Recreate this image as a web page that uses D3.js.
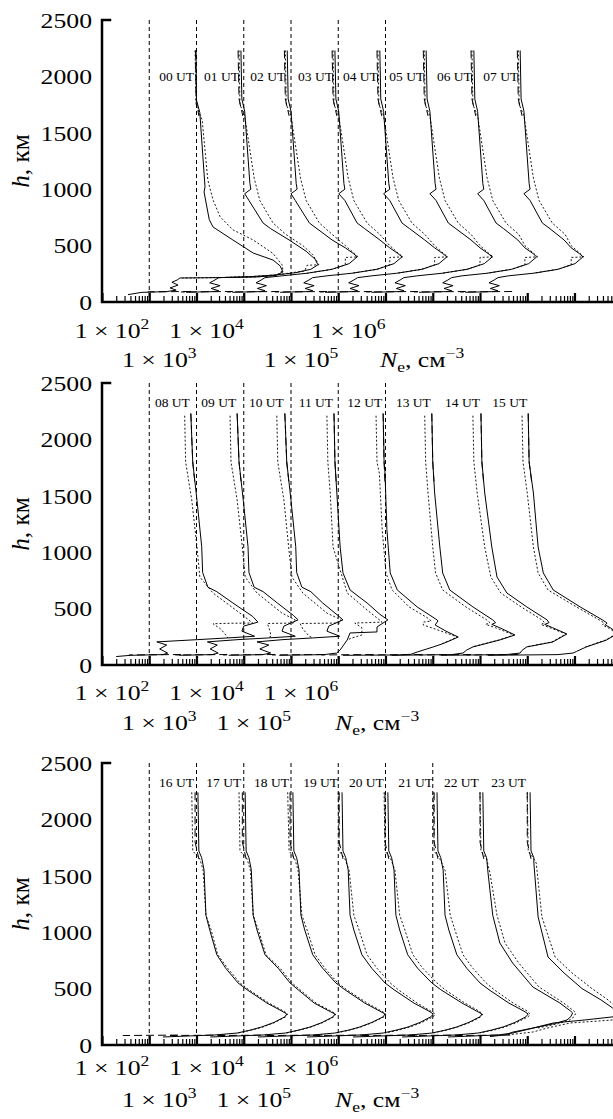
<!DOCTYPE html>
<html><head><meta charset="utf-8">
<script src="https://cdn.jsdelivr.net/npm/d3@7"></script>
<style>
body{margin:0;background:#fff}
svg{display:block}
text{font-family:"Liberation Serif","Times New Roman",serif;fill:#000}
</style>
</head><body>
<svg id="c" width="613" height="1119"></svg>
<script>
// ---------- DATA: [altitude km, log10 Ne (cm^-3)] ----------
const utP1 = ["00 UT","01 UT","02 UT","03 UT","04 UT","05 UT","06 UT","07 UT"];
const utP2 = ["08 UT","09 UT","10 UT","11 UT","12 UT","13 UT","14 UT","15 UT"];
const utP3 = ["16 UT","17 UT","18 UT","19 UT","20 UT","21 UT","22 UT","23 UT"];

const solidP1 = [
 [[2230,3.99],[1790,4.00],[1680,4.07],[1020,4.18],[975,4.16],[730,4.27],[665,4.35],[550,4.77],[434,5.20],[372,5.62],[320,5.77],[266,5.83],[235,5.68],[222,5.26],[216,4.41],[213,3.65],[195,3.59],[175,3.48],[150,3.61],[125,3.44],[105,3.57],[92,3.36],[85,2.83],[65,2.55]],
 [[2230,3.94],[1800,3.96],[1690,4.02],[1050,4.13],[1000,4.15],[960,4.02],[900,4.11],[700,4.41],[650,4.57],[550,4.96],[450,5.32],[380,5.51],[330,5.57],[290,5.42],[260,5.10],[240,4.68],[225,4.15],[216,3.47],[195,3.39],[170,3.28],[145,3.50],[120,3.31],[100,3.47],[92,3.35],[86,2.78]],
 [[2230,3.92],[1800,3.94],[1690,4.00],[1050,4.11],[1000,4.13],[960,4.00],[900,4.09],[700,4.39],[650,4.55],[550,4.87],[480,5.15],[430,5.32],[400,5.40],[340,5.23],[290,4.87],[255,4.34],[232,3.81],[216,3.45],[195,3.37],[170,3.26],[145,3.48],[120,3.29],[100,3.45],[92,3.33],[86,2.76]],
 [[2230,3.93],[1800,3.95],[1690,4.01],[1050,4.12],[1000,4.14],[960,4.01],[900,4.14],[700,4.40],[650,4.56],[550,4.88],[480,5.09],[430,5.26],[400,5.35],[340,5.18],[290,4.82],[255,4.29],[232,3.76],[216,3.46],[195,3.38],[170,3.27],[145,3.49],[120,3.30],[100,3.46],[92,3.34],[86,2.77]],
 [[2230,3.88],[1800,3.90],[1690,3.96],[1050,4.07],[1000,4.09],[960,3.96],[900,4.09],[700,4.35],[650,4.51],[550,4.83],[480,5.04],[430,5.21],[400,5.30],[340,5.13],[290,4.77],[255,4.24],[232,3.71],[216,3.41],[195,3.33],[170,3.22],[145,3.44],[120,3.25],[100,3.41],[92,3.29],[86,2.72]],
 [[2230,3.86],[1800,3.88],[1690,3.94],[1050,4.05],[1000,4.07],[960,3.94],[900,4.07],[700,4.33],[650,4.49],[550,4.81],[480,5.00],[430,5.17],[400,5.26],[340,5.09],[290,4.73],[255,4.20],[232,3.67],[216,3.39],[195,3.31],[170,3.20],[145,3.42],[120,3.23],[100,3.39],[92,3.27],[86,2.70]],
 [[2230,3.87],[1800,3.89],[1690,3.95],[1050,4.06],[1000,4.08],[960,3.95],[900,4.08],[700,4.34],[650,4.50],[550,4.80],[480,4.95],[430,5.12],[400,5.20],[340,5.03],[290,4.67],[255,4.15],[232,3.62],[216,3.40],[195,3.32],[170,3.21],[145,3.43],[120,3.24],[100,3.40],[92,3.28],[86,2.71]],
 [[2230,3.85],[1800,3.87],[1690,3.93],[1050,4.04],[1000,4.06],[960,3.93],[900,4.06],[700,4.32],[650,4.48],[550,4.78],[480,4.93],[430,5.10],[400,5.18],[340,5.01],[290,4.65],[255,4.13],[232,3.60],[216,3.38],[195,3.30],[170,3.19],[145,3.41],[120,3.22],[100,3.38],[92,3.26],[86,2.69]]
];
const dottedP1 = [
 [[2230,3.97],[1750,3.99],[1613,4.12],[1080,4.24],[905,4.35],[755,4.50],[640,4.77],[550,5.20],[430,5.62],[330,5.81],[280,5.83],[235,5.68],[222,5.26],[216,4.41],[212,3.70]],
 [[2230,3.90],[1750,3.92],[1650,4.02],[1100,4.22],[900,4.34],[700,4.62],[600,4.89],[500,5.25],[420,5.46],[330,5.59],[325,5.34],[275,5.29],[240,4.68],[225,4.15],[216,3.47]],
 [[2230,3.88],[1750,3.90],[1650,4.00],[1100,4.20],[900,4.32],[700,4.60],[600,4.87],[500,5.15],[430,5.34],[400,5.42],[395,5.15],[330,5.15],[290,4.87],[255,4.34]],
 [[2230,3.89],[1750,3.91],[1650,4.01],[1100,4.21],[900,4.33],[700,4.61],[600,4.88],[500,5.09],[430,5.28],[400,5.37],[395,5.09],[330,5.09],[290,4.82],[255,4.29]],
 [[2230,3.84],[1750,3.86],[1650,3.96],[1100,4.16],[900,4.28],[700,4.56],[600,4.83],[500,5.04],[430,5.23],[400,5.32],[395,5.04],[330,5.04],[290,4.77],[255,4.24]],
 [[2230,3.82],[1750,3.84],[1650,3.94],[1100,4.14],[900,4.26],[700,4.54],[600,4.81],[500,5.00],[430,5.19],[400,5.28],[395,5.00],[330,5.00],[290,4.73],[255,4.20]],
 [[2230,3.83],[1750,3.85],[1650,3.95],[1100,4.15],[900,4.27],[700,4.55],[600,4.82],[500,4.95],[430,5.14],[400,5.22],[395,4.95],[330,4.95],[290,4.67],[255,4.15]],
 [[2230,3.81],[1750,3.83],[1650,3.93],[1100,4.13],[900,4.25],[700,4.53],[600,4.80],[500,4.93],[430,5.12],[400,5.20],[395,4.93],[330,4.93],[290,4.65],[255,4.13]]
];
const dashedP1 = [
 [[2230,3.98],[1800,3.99],[1650,4.05],null,[93,3.88],[90,2.97]],
 [[2230,3.88],[1800,3.90],[1650,3.98],null,[93,3.77],[89,2.67]],
 [[2230,3.86],[1800,3.88],[1650,3.96],null,[93,3.75],[89,2.65]],
 [[2230,3.87],[1800,3.89],[1650,3.97],null,[93,3.76],[89,2.66]],
 [[2230,3.82],[1800,3.84],[1650,3.92],null,[93,3.71],[89,2.61]],
 [[2230,3.80],[1800,3.82],[1650,3.90],null,[93,3.69],[89,2.59]],
 [[2230,3.81],[1800,3.83],[1650,3.91],null,[93,3.70],[89,2.60]],
 [[2230,3.79],[1800,3.81],[1650,3.89],null,[93,3.68],[89,2.58]]
];

const solidP2 = [
 [[2230,3.88],[1800,3.92],[1460,4.01],[1050,4.11],[820,4.13],[690,4.24],[650,4.43],[550,4.77],[430,5.19],[380,5.30],[345,5.00],[300,4.96],[255,5.23],[240,4.66],[225,4.03],[205,3.16],[177,3.37],[142,3.22],[106,3.39],[92,3.29],[86,2.61],[75,2.30]],
 [[2230,3.86],[1800,3.90],[1460,3.99],[1050,4.09],[820,4.11],[690,4.22],[650,4.41],[550,4.71],[440,5.05],[400,5.15],[345,4.85],[300,4.81],[255,5.09],[240,4.52],[225,3.88],[205,3.23],[177,3.44],[142,3.29],[106,3.46],[92,3.33],[86,2.63]],
 [[2230,3.87],[1800,3.91],[1460,4.00],[1050,4.10],[820,4.12],[690,4.23],[650,4.42],[550,4.67],[440,4.99],[400,5.10],[345,4.80],[300,4.76],[255,5.03],[240,4.46],[225,3.83],[205,3.28],[177,3.53],[142,3.34],[106,3.57],[92,3.40],[86,2.68]],
 [[2230,3.91],[1800,3.93],[1525,3.97],[1046,4.04],[816,4.10],[665,4.25],[550,4.61],[450,4.88],[400,5.05],[337,4.82],[293,4.82],[284,4.25],[222,4.19],[133,4.04],[106,3.97],[92,3.70],[86,2.75]],
 [[2230,3.95],[1800,3.97],[1700,3.99],[1200,4.03],[816,4.10],[665,4.25],[515,4.67],[400,5.09],[390,5.11],[355,5.05],[300,5.28],[248,5.54],[220,5.39],[190,5.22],[160,5.01],[115,4.67],[95,4.54],[89,4.27],[86,3.10]],
 [[2230,3.98],[1800,4.00],[1525,4.04],[1046,4.15],[816,4.21],[665,4.36],[515,4.85],[400,5.27],[375,5.33],[360,5.25],[330,5.42],[266,5.74],[222,5.42],[160,4.85],[133,4.72],[106,4.64],[92,4.40],[86,3.13]],
 [[2230,4.02],[1800,4.04],[1525,4.10],[1046,4.25],[780,4.36],[638,4.57],[515,4.99],[400,5.42],[375,5.46],[360,5.37],[330,5.54],[275,5.84],[204,5.54],[160,4.99],[130,4.89],[106,4.85],[92,4.55],[86,3.17]],
 [[2230,4.02],[1800,4.04],[1525,4.13],[1046,4.23],[816,4.34],[665,4.55],[515,5.12],[400,5.59],[372,5.69],[355,5.65],[330,5.76],[280,5.92],[220,5.67],[160,5.25],[120,5.04],[106,4.97],[92,4.65],[86,3.17]]
];
const dottedP2 = [
 [[2210,3.75],[1800,3.77],[1463,3.90],[1046,4.01],[780,4.07],[638,4.35],[460,4.92],[372,5.19],[370,4.73],[366,4.35],[320,4.51],[257,4.64],[240,4.66]],
 [[2210,3.71],[1800,3.73],[1463,3.86],[1046,3.97],[780,4.03],[638,4.28],[460,4.81],[400,5.09],[372,5.05],[368,4.50],[320,4.54],[257,4.58],[240,4.52]],
 [[2210,3.70],[1800,3.72],[1463,3.85],[1046,3.95],[780,4.02],[638,4.25],[460,4.76],[400,5.06],[372,5.03],[368,4.19],[320,4.25],[257,4.38],[240,4.46]],
 [[2210,3.76],[1800,3.78],[1525,3.83],[1046,3.89],[638,4.19],[488,4.61],[380,4.93],[372,4.35],[330,4.50],[266,4.50],[240,4.29],[222,4.19]],
 [[2210,3.80],[1800,3.82],[1700,3.87],[1200,3.93],[816,4.01],[665,4.14],[515,4.50],[420,4.88],[390,4.97],[380,4.80],[355,4.80],[300,5.18],[248,5.52],[220,5.37],[190,5.20]],
 [[2210,3.83],[1800,3.85],[1525,3.90],[1046,4.00],[816,4.06],[665,4.21],[515,4.70],[400,5.14],[375,5.21],[360,5.12],[330,5.33],[266,5.72],[222,5.40],[160,4.83]],
 [[2210,3.85],[1800,3.87],[1525,3.94],[1046,4.10],[780,4.23],[638,4.44],[515,4.87],[400,5.31],[375,5.37],[360,5.29],[330,5.48],[275,5.82],[204,5.52],[160,4.97]],
 [[2210,3.89],[1800,3.91],[1525,4.00],[1046,4.13],[816,4.23],[665,4.44],[515,5.04],[400,5.52],[372,5.63],[355,5.59],[330,5.71],[280,5.90],[220,5.65],[160,5.23]]
];
const dashedP2 = [
 [[2230,3.88],[1800,3.92],[1600,3.97],null,[93,3.67],[89,2.57]],
 [[2230,3.86],[1800,3.90],[1600,3.95],null,[93,3.65],[89,2.55]],
 [[2230,3.87],[1800,3.91],[1600,3.96],null,[93,3.66],[89,2.56]],
 [[2230,3.91],[1800,3.93],[1600,3.96],null,[93,3.70],[89,2.60]],
 [[2230,3.95],[1800,3.97],[1600,3.99],null,[93,3.74],[89,2.64]],
 [[2230,3.98],[1800,4.00],[1600,4.03],null,[93,3.77],[89,2.67]],
 [[2230,4.02],[1800,4.04],[1600,4.08],null,[93,3.81],[89,2.71]],
 [[2230,4.02],[1800,4.04],[1600,4.10],null,[93,3.81],[89,2.71]]
];

const solidP3 = [
 [[2240,4.03],[1720,4.05],[1660,4.11],[1550,4.16],[1150,4.20],[1020,4.28],[800,4.43],[680,4.62],[550,4.88],[490,5.07],[372,5.49],[300,5.81],[275,5.91],[250,5.87],[200,5.64],[160,5.38],[133,5.15],[106,4.86],[89,4.39],[71,3.29]],
 [[2240,4.03],[1720,4.05],[1660,4.11],[1550,4.16],[1150,4.20],[1020,4.28],[800,4.45],[680,4.73],[550,4.98],[490,5.15],[372,5.49],[300,5.81],[275,5.93],[250,5.89],[200,5.66],[160,5.41],[133,5.17],[106,4.88],[89,4.41],[71,3.29]],
 [[2240,4.04],[1720,4.06],[1660,4.12],[1550,4.17],[1150,4.21],[1020,4.29],[800,4.46],[680,4.67],[550,4.95],[490,5.14],[372,5.56],[300,5.88],[275,5.99],[250,5.95],[200,5.71],[160,5.46],[133,5.23],[106,4.93],[89,4.46],[71,3.30]],
 [[2240,4.08],[1720,4.10],[1660,4.16],[1550,4.21],[1150,4.25],[1020,4.33],[800,4.50],[680,4.71],[550,4.99],[490,5.18],[372,5.60],[300,5.92],[275,6.01],[250,5.96],[200,5.73],[160,5.48],[133,5.24],[106,4.95],[89,4.48],[71,3.34]],
 [[2240,4.05],[1720,4.07],[1660,4.13],[1550,4.18],[1150,4.22],[1020,4.30],[800,4.47],[680,4.68],[550,4.98],[490,5.17],[372,5.62],[300,5.93],[275,6.04],[250,6.00],[200,5.76],[160,5.51],[133,5.28],[106,4.98],[89,4.52],[71,3.31]],
 [[2240,4.09],[1720,4.11],[1660,4.17],[1550,4.22],[1150,4.26],[1020,4.34],[800,4.51],[680,4.72],[550,5.00],[490,5.19],[372,5.61],[300,5.93],[275,6.02],[250,5.97],[200,5.74],[160,5.49],[133,5.25],[106,4.96],[89,4.49],[71,3.35]],
 [[2240,4.06],[1720,4.08],[1660,4.14],[1525,4.17],[1150,4.27],[904,4.42],[727,4.69],[514,5.12],[372,5.69],[300,5.92],[284,5.96],[250,5.92],[222,5.84],[190,5.58],[150,5.12],[106,4.69],[89,4.38],[71,3.32]],
 [[2240,4.06],[1720,4.08],[1660,4.14],[1613,4.14],[1135,4.23],[780,4.44],[638,4.78],[500,5.16],[400,5.56],[330,5.80],[280,5.92],[250,5.82],[222,5.22],[195,4.55],[150,4.12],[115,3.70],[89,3.53],[75,3.21]]
];
const dottedP3 = [
 [[2240,3.90],[1720,3.92],[1650,4.07],[1550,4.14],[1150,4.20],[1020,4.31],[800,4.45],[680,4.66],[550,4.92],[490,5.11],[372,5.53],[300,5.85],[275,5.93],[250,5.89],[200,5.66],[160,5.41],[133,5.17],[106,4.88]],
 [[2240,3.90],[1720,3.92],[1650,4.07],[1550,4.14],[1150,4.20],[1020,4.31],[800,4.47],[680,4.77],[550,5.02],[490,5.19],[372,5.53],[300,5.85],[275,5.95],[250,5.91],[200,5.68],[160,5.43],[133,5.19],[106,4.90]],
 [[2240,3.93],[1720,3.96],[1650,4.08],[1550,4.15],[1150,4.23],[1020,4.34],[800,4.51],[680,4.72],[550,4.99],[490,5.18],[372,5.61],[300,5.92],[275,6.01],[250,5.97],[200,5.73],[160,5.48],[133,5.25],[106,4.95]],
 [[2240,4.00],[1720,4.02],[1650,4.14],[1550,4.23],[1150,4.33],[1020,4.44],[800,4.61],[680,4.82],[550,5.10],[490,5.27],[372,5.67],[300,5.96],[275,6.05],[250,6.01],[200,5.77],[160,5.52],[133,5.29],[106,4.99]],
 [[2240,3.97],[1720,3.99],[1650,4.11],[1550,4.20],[1150,4.30],[1020,4.41],[800,4.58],[680,4.79],[550,5.09],[490,5.26],[372,5.68],[300,5.98],[275,6.06],[250,6.02],[200,5.79],[160,5.53],[133,5.30],[106,5.00]],
 [[2240,4.01],[1720,4.03],[1650,4.15],[1550,4.26],[1150,4.37],[1020,4.47],[800,4.64],[680,4.85],[550,5.13],[490,5.30],[372,5.70],[300,6.00],[275,6.06],[250,6.02],[200,5.78],[160,5.53],[133,5.30],[106,5.00]],
 [[2240,4.00],[1720,4.02],[1650,4.14],[1525,4.21],[1150,4.36],[904,4.53],[727,4.82],[514,5.25],[372,5.77],[300,5.99],[284,6.03],[250,5.99],[222,5.90],[190,5.67],[150,5.22]],
 [[2240,4.00],[1720,4.02],[1650,4.14],[1613,4.19],[1135,4.31],[780,4.59],[638,4.95],[500,5.37],[400,5.71],[330,5.90],[280,5.99],[250,5.88],[222,5.82],[195,4.91],[150,4.42],[115,4.12],[89,3.57]]
];
const dashedP3 = [
 [[2240,3.97],[1800,3.97],[1650,4.05],null,[88,3.61],[84,2.44]],
 [[2240,3.97],[1800,3.97],[1650,4.05],null,[88,3.61],[84,2.44]],
 [[2240,3.98],[1800,3.98],[1650,4.06],null,[88,3.62],[84,2.45]],
 [[2240,4.02],[1800,4.02],[1650,4.10],null,[88,3.66],[84,2.49]],
 [[2240,3.99],[1800,3.99],[1650,4.07],null,[88,3.63],[84,2.46]],
 [[2240,4.03],[1800,4.03],[1650,4.11],null,[88,3.67],[84,2.50]],
 [[2240,4.00],[1800,4.00],[1650,4.08],null,[88,3.64],[84,2.47]],
 [[2240,4.00],[1800,4.00],[1650,4.08],null,[88,3.64],[84,2.47]]
];

const yTicks = [0, 500, 1000, 1500, 2000, 2500];
const tickExps = [2, 3, 4, 5, 6];
const tickValsP1 = [1e2, 1e3, 1e4, 1e6, 1e7];
const tickValsP23 = [1e2, 1e3, 1e4, 1e5, 1e6];
const vlinesP12 = [1e3, 1e4, 1e5, 1e6, 1e7, 1e8];
const vlinesP3 = [1e3, 1e4, 1e5, 1e6, 1e7, 1e8, 1e9];

// ---------- LAYOUT ----------
const W = 613;
const SX = 1.17; // horizontal stretch of the lettering
const svg = d3.select("#c");
const x = d3.scaleLog().domain([1e2, 1e13]).range([102, 102 + 11 * 47.25]);

const panels = [
  {top: 20,  bottom: 302,  ut: utP1, solid: solidP1, dotted: dottedP1, dashed: dashedP1, vlines: vlinesP12, ticks: tickValsP1,  labelH: 1955, labelDx: -2, row1: 338,  row2: 367,  neX: 380},
  {top: 383, bottom: 665,  ut: utP2, solid: solidP2, dotted: dottedP2, dashed: dashedP2, vlines: vlinesP12, ticks: tickValsP23, labelH: 2290, labelDx: -1, row1: 700,  row2: 730,  neX: 335},
  {top: 763, bottom: 1045, ut: utP3, solid: solidP3, dotted: dottedP3, dashed: dashedP3, vlines: vlinesP3,  ticks: tickValsP23, labelH: 2290, labelDx: -4, row1: 1075, row2: 1107, neX: 335}
];

function stext(parent, px, py, anchor, size, sx) {
  return parent.append("g")
    .attr("transform", `translate(${px},${py}) scale(${sx},1)`)
    .append("text").attr("text-anchor", anchor).attr("font-size", size);
}

const minorVals = [], majorVals = [];
for (let k = 2; k <= 12; k++) for (let m = 1; m <= 9; m++) {
  const v = m * Math.pow(10, k);
  if (x(v) <= W + 1) (m === 1 ? majorVals : minorVals).push(v);
}

panels.forEach((p) => {
  const y = d3.scaleLinear().domain([0, 2500]).range([p.bottom, p.top]);
  const g = svg.append("g");

  // vertical dashed reference lines
  g.selectAll("line.vl").data(p.vlines).join("line").attr("class", "vl")
    .attr("x1", d => x(d)).attr("x2", d => x(d))
    .attr("y1", y(2500)).attr("y2", y(0))
    .attr("stroke", "#000").attr("stroke-width", 1).attr("stroke-dasharray", "4,3");

  const lineFor = i => d3.line().defined(d => d !== null)
    .x(d => x(Math.pow(10, d[1] + i))).y(d => y(d[0]));

  p.dashed.forEach((arr, i) => g.append("path").attr("d", lineFor(i)(arr))
    .attr("fill", "none").attr("stroke", "#000").attr("stroke-width", 1).attr("stroke-dasharray", "8,4"));
  p.dotted.forEach((arr, i) => g.append("path").attr("d", lineFor(i)(arr))
    .attr("fill", "none").attr("stroke", "#000").attr("stroke-width", 0.9).attr("stroke-dasharray", "2,2"));
  p.solid.forEach((arr, i) => g.append("path").attr("d", lineFor(i)(arr))
    .attr("fill", "none").attr("stroke", "#000").attr("stroke-width", 1));

  // UT labels
  p.ut.forEach((lab, i) => {
    const top = p.solid[i][0];
    stext(g, x(Math.pow(10, top[1] + i)) + p.labelDx, y(p.labelH), "end", 12.5, 1.08).text(lab);
  });

  // x ticks (pointing up into plot)
  const axMinor = d3.axisTop(x).tickValues(minorVals).tickSize(6).tickSizeOuter(0).tickFormat("");
  const axMajor = d3.axisTop(x).tickValues(majorVals).tickSize(9).tickSizeOuter(0).tickFormat("");
  const gm = g.append("g").attr("transform", `translate(0,${p.bottom})`).call(axMinor);
  gm.select(".domain").remove(); gm.selectAll("line").attr("stroke-width", 1.2);
  const gM = g.append("g").attr("transform", `translate(0,${p.bottom})`).call(axMajor);
  gM.select(".domain").remove(); gM.selectAll("line").attr("stroke-width", 2.2);

  // axis frame lines
  g.append("path")
    .attr("d", `M110,${y(2500)}H102V${y(0)}H${W}`)
    .attr("fill", "none").attr("stroke", "#000").attr("stroke-width", 2.5).attr("stroke-linecap", "square");

  // y tick labels
  yTicks.forEach(v => {
    stext(g, 92, y(v), "end", 22, SX).attr("dy", "0.35em").text(v);
  });

  // y title
  const cy = (p.top + p.bottom) / 2;
  const yt = g.append("g").attr("transform", `translate(29,${cy}) rotate(-90) scale(1.15,1.12)`)
    .append("text").attr("text-anchor", "middle").attr("font-size", 22);
  yt.append("tspan").attr("font-style", "italic").text("h");
  yt.append("tspan").text(", км");

  // x tick labels, staggered in two rows
  p.ticks.forEach((v, k) => {
    const e = tickExps[k];
    const t = stext(g, x(v) + 10, e % 2 === 0 ? p.row1 : p.row2, "middle", 22, SX);
    t.append("tspan").text("1 × 10");
    t.append("tspan").attr("font-size", 15).attr("dy", -9).text(e);
  });

  // x title
  const nt = stext(g, p.neX, p.row2, "start", 22, SX);
  nt.append("tspan").attr("font-style", "italic").text("N");
  nt.append("tspan").attr("font-size", 15).attr("dy", 5).text("e");
  nt.append("tspan").attr("dy", -5).text(", см");
  nt.append("tspan").attr("font-size", 15).attr("dy", -9).text("−3");
});
</script>
</body></html>
